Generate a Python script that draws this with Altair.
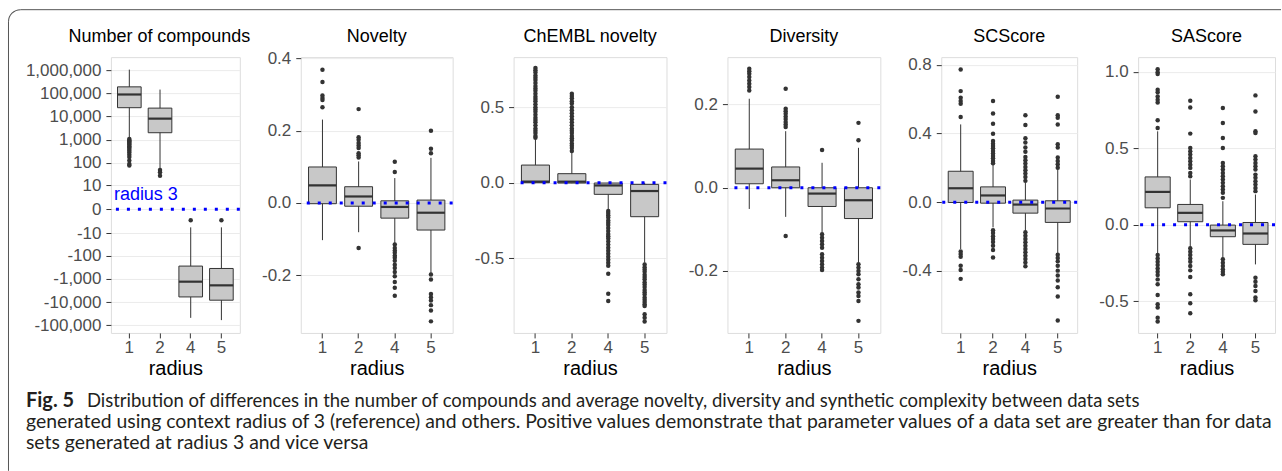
import altair as alt
import pandas as pd

RADII = ["1", "2", "4", "5"]

# ---- Number of compounds (difference to radius 3) ----
nc_lo = [1230, 59, -48000, -60000]
nc_q1 = [24000, 2000, -6000, -8300]
nc_med = [89000, 8100, -1320, -1900]
nc_q3 = [190000, 23000, -280, -355]
nc_hi = [1050000, 145000, -5, -5]
nc_out = {
    "1": [1070, 955, 850, 760, 675, 600, 525, 457, 400, 330, 282, 224, 178, 126, 89, 76],
    "2": [49, 39, 27],
    "4": [-2],
    "5": [-2],
}

# ---- Novelty ----
nov_lo = [-0.103, -0.081, -0.111, -0.194]
nov_q1 = [-0.002, -0.009, -0.042, -0.075]
nov_med = [0.049, 0.018, -0.011, -0.027]
nov_q3 = [0.0997, 0.045, 0.006, 0.008]
nov_hi = [0.231, 0.115, 0.069, 0.125]
nov_out = {
    "1": [0.369, 0.335, 0.298, 0.291, 0.285, 0.265],
    "2": [0.260, 0.182, 0.175, 0.166, 0.159, 0.152, 0.138, 0.132, 0.126, -0.125],
    "4": [0.114, 0.086, -0.115, -0.125, -0.132, -0.138, -0.146, -0.152, -0.160, -0.171,
          -0.180, -0.191, -0.203, -0.219, -0.235, -0.257],
    "5": [0.200, 0.150, 0.138, -0.198, -0.212, -0.252, -0.261, -0.270, -0.283, -0.298, -0.328],
}

# ---- ChEMBL novelty ----
ch_lo = [-0.003, -0.003, -0.177, -0.53]
ch_q1 = [0.0, -0.002, -0.077, -0.225]
ch_med = [0.007, 0.007, -0.018, -0.055]
ch_q3 = [0.117, 0.06, -0.002, -0.011]
ch_hi = [0.287, 0.199, 0.0, 0.0]
ch_out = {
    "1": [0.76, 0.745, 0.73, 0.71, 0.695, 0.68, 0.66, 0.64, 0.625, 0.61, 0.59, 0.57, 0.555, 0.54,
          0.52, 0.50, 0.485, 0.47, 0.45, 0.43, 0.415, 0.40, 0.38, 0.36, 0.345, 0.33, 0.31, 0.298],
    "2": [0.589, 0.575, 0.56, 0.54, 0.525, 0.50, 0.48, 0.46, 0.44, 0.42, 0.40, 0.38, 0.36, 0.345,
          0.33, 0.31, 0.295, 0.28, 0.26, 0.245, 0.23, 0.21],
    "4": [-0.188, -0.20, -0.215, -0.23, -0.25, -0.265, -0.28, -0.30, -0.32, -0.34, -0.355, -0.37,
          -0.39, -0.41, -0.43, -0.45, -0.47, -0.49, -0.51, -0.53, -0.55, -0.603, -0.735, -0.784],
    "5": [-0.541, -0.56, -0.575, -0.59, -0.61, -0.625, -0.64, -0.66, -0.675, -0.69, -0.71, -0.725,
          -0.74, -0.76, -0.775, -0.79, -0.805, -0.817, -0.872, -0.894, -0.92],
}

# ---- Diversity ----
div_lo = [-0.051, -0.07, -0.108, -0.18]
div_q1 = [0.0096, 0.0, -0.045, -0.074]
div_med = [0.046, 0.018, -0.014, -0.030]
div_q3 = [0.093, 0.050, 0.0, 0.0]
div_hi = [0.214, 0.136, 0.06, 0.096]
div_out = {
    "1": [0.286, 0.28, 0.274, 0.266, 0.258, 0.25, 0.242, 0.234],
    "2": [0.238, 0.19, 0.184, 0.178, 0.171, 0.165, 0.158, 0.152, 0.146, -0.116],
    "4": [0.091, -0.112, -0.12, -0.128, -0.136, -0.144, -0.16, -0.168, -0.176, -0.184, -0.192, -0.198],
    "5": [0.156, 0.114, -0.184, -0.192, -0.2, -0.208, -0.22, -0.232, -0.24, -0.252, -0.26, -0.272, -0.32],
}

# ---- SCScore ----
sc_lo = [-0.273, -0.147, -0.167, -0.296]
sc_q1 = [-0.002, -0.006, -0.064, -0.118]
sc_med = [0.081, 0.039, -0.014, -0.037]
sc_q3 = [0.180, 0.089, 0.012, 0.008]
sc_hi = [0.453, 0.221, 0.114, 0.192]
sc_out = {
    "1": [0.773, 0.647, 0.608, 0.589, 0.573, 0.496, -0.287, -0.302, -0.318, -0.37, -0.395, -0.447],
    "2": [0.589, 0.517, 0.457, 0.399, 0.356, 0.341, 0.327, 0.314, 0.298, 0.283, 0.269, 0.256, 0.240,
          0.227, -0.163, -0.180, -0.198, -0.215, -0.232, -0.254, -0.279, -0.322],
    "4": [0.506, 0.449, 0.372, 0.347, 0.318, 0.294, 0.263, 0.244, 0.225, 0.205, 0.186, 0.167, 0.147,
          0.124, -0.176, -0.196, -0.215, -0.234, -0.254, -0.273, -0.292, -0.312, -0.331, -0.351, -0.374],
    "5": [0.614, 0.506, 0.492, 0.453, 0.337, 0.318, 0.260, 0.240, 0.221, 0.201, -0.306, -0.325,
          -0.345, -0.370, -0.399, -0.428, -0.457, -0.496, -0.550, -0.690],
}

# ---- SAScore ----
sa_lo = [-0.189, -0.146, -0.215, -0.259]
sa_q1 = [0.111, 0.02, -0.078, -0.128]
sa_med = [0.215, 0.078, -0.037, -0.057]
sa_q3 = [0.313, 0.133, -0.002, 0.015]
sa_hi = [0.611, 0.296, 0.154, 0.198]
sa_out = {
    "1": [1.017, 0.998, 0.985, 0.883, 0.867, 0.839, 0.817, 0.80, 0.683, 0.633, -0.198, -0.220,
          -0.241, -0.263, -0.285, -0.307, -0.328, -0.357, -0.389, -0.459, -0.520, -0.541, -0.607, -0.633],
    "2": [0.811, 0.767, 0.596, 0.502, 0.480, 0.459, 0.437, 0.415, 0.393, 0.372, 0.339, 0.317,
          -0.154, -0.176, -0.198, -0.220, -0.241, -0.270, -0.298, -0.341, -0.454, -0.513, -0.578],
    "4": [0.763, 0.665, 0.567, 0.502, 0.404, 0.383, 0.361, 0.339, 0.317, 0.296, 0.274, 0.252,
          0.230, 0.209, 0.176, -0.226, -0.248, -0.270, -0.291, -0.307, -0.324],
    "5": [0.846, 0.741, 0.611, 0.60, 0.448, 0.426, 0.404, 0.383, 0.361, 0.328, 0.307, 0.285,
          0.263, 0.241, 0.220, -0.346, -0.372, -0.40, -0.433, -0.476, -0.494],
}

caption_bold = "Fig. 5"
caption_lines = [
    "Distribution of differences in the number of compounds and average novelty, diversity and synthetic complexity between data sets",
    "generated using context radius of 3 (reference) and others. Positive values demonstrate that parameter values of a data set are greater than for data",
    "sets generated at radius 3 and vice versa",
]

FONT = "Liberation Sans"
CAP_FONT = "Lato"
DARK = "#333333"
H = 276
ONE = pd.DataFrame({"k": [0]})


def fmt_expr(spec):
    return "datum.value == 0 ? '%s' : (datum.value < 0 ? '-' : '') + format(abs(datum.value), '%s')" % (
        "0" if spec == "," else "0.0", spec)


def panel(title, lo, q1, med, q3, hi, outliers, domain, ticks, spec, width,
          scale_type="linear", title_dx=0, extra=None):
    summ = pd.DataFrame({"radius": RADII, "lo": lo, "q1": q1, "med": med, "q3": q3, "hi": hi})
    rows = [(r, v) for r in RADII for v in outliers[r]]
    outs = pd.DataFrame(rows, columns=["radius", "value"])
    if scale_type == "symlog":
        sc = alt.Scale(type="symlog", constant=1, domain=domain, nice=False, zero=False)
    else:
        sc = alt.Scale(domain=domain, nice=False, zero=False)
    xaxis = alt.Axis(title="radius", titleFontSize=20, titleFont=FONT, titleColor="black",
                     titleFontWeight="normal", titlePadding=3, labelAngle=0, labelFontSize=17,
                     labelFont=FONT, labelColor="#4d4d4d", labelPadding=2, tickSize=5,
                     tickColor=DARK, domain=False, grid=False)
    yaxis = alt.Axis(title=None, values=ticks, tickCount=len(ticks) + 2, labelExpr=fmt_expr(spec),
                     labelOverlap=False, grid=True, gridColor="#ebebeb", gridWidth=1, domain=False,
                     tickColor=DARK, tickSize=5, labelFontSize=17, labelFont=FONT,
                     labelColor="#4d4d4d", labelPadding=5)
    xs = alt.X("radius:N", scale=alt.Scale(domain=RADII, paddingInner=0, paddingOuter=0.1), axis=xaxis)
    base = alt.Chart(summ)
    whisk = base.mark_rule(color=DARK, strokeWidth=1).encode(
        x=xs, y=alt.Y("lo:Q", scale=sc, axis=yaxis), y2="hi:Q")
    box = base.mark_bar(width=alt.RelativeBandSize(0.77), fill="#c8c8c8", stroke=DARK,
                        strokeWidth=1).encode(x=xs, y=alt.Y("q1:Q", scale=sc, axis=yaxis), y2="q3:Q")
    medl = base.mark_tick(color=DARK, thickness=2.2, size=0.77 * width / 4.2, opacity=1).encode(
        x=xs, y=alt.Y("med:Q", scale=sc, axis=yaxis))
    zero = alt.Chart(ONE).mark_rule(color="#0000ff", strokeDash=[3, 8], strokeWidth=3).encode(
        y=alt.datum(0))
    pts = alt.Chart(outs).mark_circle(size=20, color=DARK, opacity=1).encode(
        x=xs, y=alt.Y("value:Q", scale=sc, axis=yaxis))
    ttl = alt.Chart(ONE).mark_text(text=title, font=FONT, fontSize=18, color="black",
                                   align="center", baseline="alphabetic").encode(
        x=alt.value(width / 2 + title_dx), y=alt.value(-15))
    layers = [whisk, box, medl, zero, pts, ttl] + (extra or [])
    return alt.layer(*layers).properties(width=width, height=H)


# decorations for panel 1 (origin at plot area of panel 1: page x=110, y=56)
OX, OY = 110, 56
R = 12
FR = "#555555"
frame_top = alt.Chart(ONE).mark_rule(color=FR, strokeWidth=1).encode(
    x=alt.value(7.5 - OX + R), x2=alt.value(1281 - OX), y=alt.value(8.5 - OY))
frame_left = alt.Chart(ONE).mark_rule(color=FR, strokeWidth=1).encode(
    x=alt.value(7.5 - OX), y=alt.value(8.5 - OY + R), y2=alt.value(470 - OY))
frame_corner = alt.Chart(ONE).mark_arc(fill=FR).encode(
    x=alt.value(7.5 - OX + R), y=alt.value(8.5 - OY + R),
    theta=alt.value(4.712389), theta2=alt.value(6.283185),
    radius=alt.value(R + 0.5), radius2=alt.value(R - 0.5))
radius_lbl = alt.Chart(ONE).mark_text(text="radius 3", font=FONT, fontSize=18, color="#0000ff",
                                      align="left", baseline="middle").encode(
    x=alt.value(3), y=alt.datum(3))
cap_b = alt.Chart(ONE).mark_text(text=caption_bold, font=CAP_FONT, fontSize=20, fontWeight="bold",
                                 color="#231f20", align="left", baseline="alphabetic").encode(
    x=alt.value(25 - OX), y=alt.value(406.5 - OY))
cap1 = alt.Chart(ONE).mark_text(text=caption_lines[0], font=CAP_FONT, fontSize=18.5, color="#231f20",
                                align="left", baseline="alphabetic").encode(
    x=alt.value(86 - OX), y=alt.value(406.5 - OY))
cap2 = alt.Chart(ONE).mark_text(text=caption_lines[1], font=CAP_FONT, fontSize=19.4, color="#231f20",
                                align="left", baseline="alphabetic").encode(
    x=alt.value(25 - OX), y=alt.value(427.5 - OY))
cap3 = alt.Chart(ONE).mark_text(text=caption_lines[2], font=CAP_FONT, fontSize=19.4, color="#231f20",
                                align="left", baseline="alphabetic").encode(
    x=alt.value(25 - OX), y=alt.value(448 - OY))

p1 = panel("Number of compounds", nc_lo, nc_q1, nc_med, nc_q3, nc_hi, nc_out,
           [-214000, 3630000], [-100000, -10000, -1000, -100, -10, 0, 10, 100, 1000, 10000, 100000, 1000000],
           ",", 129, scale_type="symlog", title_dx=-16,
           extra=[radius_lbl, frame_top, frame_left, frame_corner, cap_b, cap1, cap2, cap3])
p2 = panel("Novelty", nov_lo, nov_q1, nov_med, nov_q3, nov_hi, nov_out,
           [-0.36, 0.404], [-0.2, 0.0, 0.2, 0.4], ".1f", 152)
p3 = panel("ChEMBL novelty", ch_lo, ch_q1, ch_med, ch_q3, ch_hi, ch_out,
           [-0.995, 0.832], [-0.5, 0.0, 0.5], ".1f", 153)
p4 = panel("Diversity", div_lo, div_q1, div_med, div_q3, div_hi, div_out,
           [-0.349, 0.314], [-0.2, 0.0, 0.2], ".1f", 153)
p5 = panel("SCScore", sc_lo, sc_q1, sc_med, sc_q3, sc_hi, sc_out,
           [-0.762, 0.845], [-0.4, 0.0, 0.4, 0.8], ".1f", 136)
p6 = panel("SAScore", sa_lo, sa_q1, sa_med, sa_q3, sa_hi, sa_out,
           [-0.707, 1.096], [-0.5, 0.0, 0.5, 1.0], ".1f", 137)

chart = alt.hconcat(p1, p2, p3, p4, p5, p6, spacing=61, bounds="flush").properties(
    padding={"left": 7, "top": 8, "right": 0, "bottom": 0}
).configure_view(stroke=DARK, strokeWidth=1).configure(background="white")

chart.save("out.html", embed_options={"renderer": "svg", "actions": False})
